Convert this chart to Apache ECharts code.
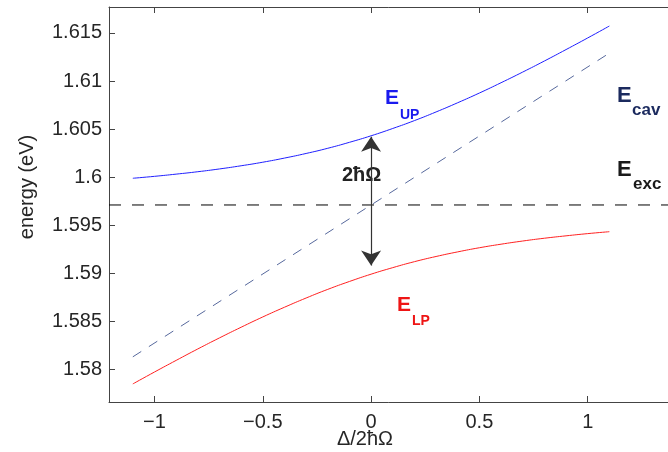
<!DOCTYPE html>
<html>
<head>
<meta charset="utf-8">
<script src="https://cdn.jsdelivr.net/npm/echarts@6/dist/echarts.min.js"></script>
<style>
  html, body { margin: 0; padding: 0; background: #fff; }
  #main { width: 668px; height: 452px; }
</style>
</head>
<body>
<div id="main"></div>
<script>
// detuning Δ/2ħΩ
const detuning = [-1.1, -1.0, -0.9, -0.8, -0.7, -0.6, -0.5, -0.4, -0.3, -0.2, -0.1, 0,
                  0.1, 0.2, 0.3, 0.4, 0.5, 0.6, 0.7, 0.8, 0.9, 1.0, 1.1];
// upper / lower polariton (eV)
const eUP = [1.59988, 1.60008, 1.60031, 1.60056, 1.60085, 1.60118, 1.60155, 1.60198,
             1.60246, 1.60300, 1.60362, 1.60430, 1.60506, 1.60588, 1.60678, 1.60774,
             1.60875, 1.60982, 1.61093, 1.61208, 1.61327, 1.61448, 1.61572];
const eLP = [1.57848, 1.57972, 1.58093, 1.58212, 1.58327, 1.58438, 1.58545, 1.58646,
             1.58742, 1.58832, 1.58914, 1.58990, 1.59058, 1.59120, 1.59174, 1.59222,
             1.59265, 1.59302, 1.59335, 1.59364, 1.59389, 1.59412, 1.59432];
// cavity mode and exciton level
const cavX = [-1.1, 1.1];
const eCav = [1.5813, 1.6129];
const excX = [-1.21, 1.5];
const eExc = [1.5971, 1.5971];
// 2ħΩ arrow tips
const arrowEnds = [1.6042, 1.5908];

const xTicks = [-1, -0.5, 0, 0.5, 1];
const yTicks = [1.58, 1.585, 1.59, 1.595, 1.6, 1.605, 1.61, 1.615];

const pair = (xs, ys) => xs.map((x, i) => [x, ys[i]]);
const onTick = (v, list) => list.some(t => Math.abs(t - v) < 1e-7);

const axisColor = '#444';
const textColor = '#262626';
const labelFont = 'Liberation Sans, Arial, sans-serif';

const chart = echarts.init(document.getElementById('main'));

const option = {
    animation: false,
    // box runs past the right edge of the picture
    grid: { left: 109, top: 7, right: -28, bottom: 50, containLabel: false, outerBoundsMode: 'none' },
    xAxis: [{
        type: 'value',
        min: -1.21,
        max: 1.5,
        splitNumber: 5,
        axisLine: { onZero: false, lineStyle: { color: axisColor, width: 1 } },
        axisTick: { inside: true, length: 6, lineStyle: { color: axisColor } },
        splitLine: { show: false },
        axisLabel: {
            margin: 10,
            color: textColor,
            fontSize: 20,
            fontFamily: labelFont,
            formatter: v => onTick(v, xTicks) ? String(+v.toFixed(2)).replace('-', '\u2212') : ''
        }
    }, {
        type: 'value',
        position: 'top',
        min: -1.21,
        max: 1.5,
        splitNumber: 5,
        axisLine: { onZero: false, lineStyle: { color: axisColor, width: 1 } },
        axisTick: { inside: true, length: 6, lineStyle: { color: axisColor } },
        splitLine: { show: false },
        axisLabel: { show: false }
    }],
    yAxis: {
        type: 'value',
        min: 1.5766,
        max: 1.6177,
        splitNumber: 8,
        axisLine: { show: true, onZero: false, lineStyle: { color: axisColor, width: 1 } },
        axisTick: { show: true, inside: true, length: 6, lineStyle: { color: axisColor } },
        splitLine: { show: false },
        axisLabel: {
            margin: 7,
            color: textColor,
            fontSize: 20,
            fontFamily: labelFont,
            formatter: v => onTick(v, yTicks) ? String(+v.toFixed(3)) : ''
        }
    },
    series: [
        {
            name: 'E_UP', type: 'line', data: pair(detuning, eUP), smooth: true,
            showSymbol: false, lineStyle: { color: '#1f1fff', width: 1 }
        },
        {
            name: 'E_LP', type: 'line', data: pair(detuning, eLP), smooth: true,
            showSymbol: false, lineStyle: { color: '#ff2020', width: 1 }
        },
        {
            name: 'E_cav', type: 'line', data: pair(cavX, eCav),
            showSymbol: false, lineStyle: { color: '#56689c', width: 1, type: [10, 9] }
        },
        {
            name: 'E_exc', type: 'line', data: pair(excX, eExc),
            showSymbol: false, lineStyle: { color: '#000', width: 1, type: [12, 11] },
            markLine: {
                silent: true,
                symbol: ['arrow', 'arrow'],
                symbolSize: 15,
                label: { show: false },
                lineStyle: { color: '#333', width: 1.2, type: 'solid' },
                data: [[{ coord: [0, arrowEnds[0]] }, { coord: [0, arrowEnds[1]] }]]
            }
        }
    ],
    graphic: [
        // axis names
        { type: 'text', x: 27, y: 187, rotation: Math.PI / 2,
          style: { text: 'energy (eV)', font: '20px ' + labelFont, fill: textColor, align: 'center', verticalAlign: 'middle' } },
        { type: 'text', x: 365, y: 439,
          style: { text: '\u0394/2\u0127\u03A9', font: '20px ' + labelFont, fill: textColor, align: 'center', verticalAlign: 'middle' } },
        // curve labels
        { type: 'text', x: 385, y: 98.5,
          style: { text: 'E', font: 'bold 21px ' + labelFont, fill: '#1a1aee', verticalAlign: 'middle' } },
        { type: 'text', x: 400, y: 115.5,
          style: { text: 'UP', font: 'bold 14px ' + labelFont, fill: '#1a1aee', verticalAlign: 'middle' } },
        { type: 'text', x: 397, y: 305.5,
          style: { text: 'E', font: 'bold 21px ' + labelFont, fill: '#ee1515', verticalAlign: 'middle' } },
        { type: 'text', x: 412, y: 321.5,
          style: { text: 'LP', font: 'bold 14px ' + labelFont, fill: '#ee1515', verticalAlign: 'middle' } },
        { type: 'text', x: 617, y: 95.5,
          style: { text: 'E', font: 'bold 22px ' + labelFont, fill: '#1b2a5e', verticalAlign: 'middle' } },
        { type: 'text', x: 632, y: 110,
          style: { text: 'cav', font: 'bold 17px ' + labelFont, fill: '#1b2a5e', verticalAlign: 'middle' } },
        { type: 'text', x: 617, y: 170,
          style: { text: 'E', font: 'bold 22px ' + labelFont, fill: '#1a1a1a', verticalAlign: 'middle' } },
        { type: 'text', x: 633, y: 184,
          style: { text: 'exc', font: 'bold 17px ' + labelFont, fill: '#1a1a1a', verticalAlign: 'middle' } },
        { type: 'text', x: 342, y: 175,
          style: { text: '2\u0127\u03A9', font: 'bold 20px ' + labelFont, fill: '#222', verticalAlign: 'middle' } }
    ]
};

chart.setOption(option);
</script>
</body>
</html>
